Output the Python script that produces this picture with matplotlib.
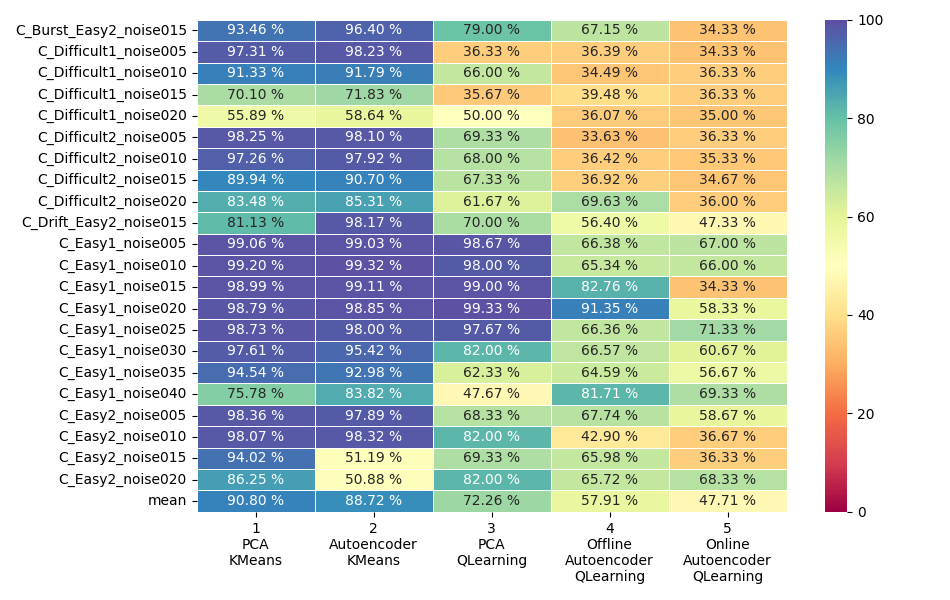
import numpy as np
import matplotlib
matplotlib.use("Agg")
import matplotlib.pyplot as plt
import seaborn as sns

rows = ["C_Burst_Easy2_noise015", "C_Difficult1_noise005", "C_Difficult1_noise010",
        "C_Difficult1_noise015", "C_Difficult1_noise020", "C_Difficult2_noise005",
        "C_Difficult2_noise010", "C_Difficult2_noise015", "C_Difficult2_noise020",
        "C_Drift_Easy2_noise015", "C_Easy1_noise005", "C_Easy1_noise010",
        "C_Easy1_noise015", "C_Easy1_noise020", "C_Easy1_noise025",
        "C_Easy1_noise030", "C_Easy1_noise035", "C_Easy1_noise040",
        "C_Easy2_noise005", "C_Easy2_noise010", "C_Easy2_noise015",
        "C_Easy2_noise020", "mean"]
cols = ["1\nPCA\nKMeans", "2\nAutoencoder\nKMeans", "3\nPCA\nQLearning",
        "4\nOffline\nAutoencoder\nQLearning", "5\nOnline\nAutoencoder\nQLearning"]

pca_kmeans = [93.46, 97.31, 91.33, 70.10, 55.89, 98.25, 97.26, 89.94, 83.48, 81.13,
              99.06, 99.20, 98.99, 98.79, 98.73, 97.61, 94.54, 75.78, 98.36, 98.07,
              94.02, 86.25, 90.80]
ae_kmeans = [96.40, 98.23, 91.79, 71.83, 58.64, 98.10, 97.92, 90.70, 85.31, 98.17,
             99.03, 99.32, 99.11, 98.85, 98.00, 95.42, 92.98, 83.82, 97.89, 98.32,
             51.19, 50.88, 88.72]
pca_ql = [79.00, 36.33, 66.00, 35.67, 50.00, 69.33, 68.00, 67.33, 61.67, 70.00,
          98.67, 98.00, 99.00, 99.33, 97.67, 82.00, 62.33, 47.67, 68.33, 82.00,
          69.33, 82.00, 72.26]
offline_ae_ql = [67.15, 36.39, 34.49, 39.48, 36.07, 33.63, 36.42, 36.92, 69.63, 56.40,
                 66.38, 65.34, 82.76, 91.35, 66.36, 66.57, 64.59, 81.71, 67.74, 42.90,
                 65.98, 65.72, 57.91]
online_ae_ql = [34.33, 34.33, 36.33, 36.33, 35.00, 36.33, 35.33, 34.67, 36.00, 47.33,
                67.00, 66.00, 34.33, 58.33, 71.33, 60.67, 56.67, 69.33, 58.67, 36.67,
                36.33, 68.33, 47.71]

data = np.array([pca_kmeans, ae_kmeans, pca_ql, offline_ae_ql, online_ae_ql]).T
labels = np.vectorize(lambda v: f"{v:.2f} %")(data)

fig = plt.figure(figsize=(9.5, 6), dpi=100)
ax = fig.add_axes([0.207, 0.147, 0.621, 0.82])
cax = fig.add_axes([0.868, 0.147, 0.024, 0.82])
sns.heatmap(data, ax=ax, cbar_ax=cax, cmap="Spectral", vmin=0, vmax=100,
            annot=labels, fmt="", linewidths=0.5, linecolor="white",
            xticklabels=cols, yticklabels=rows, annot_kws={"fontsize": 10})
ax.tick_params(axis="y", rotation=0)
ax.tick_params(axis="x", rotation=0)
cax.set_yticks([0, 20, 40, 60, 80, 100])
fig.savefig("out.png", dpi=100)
